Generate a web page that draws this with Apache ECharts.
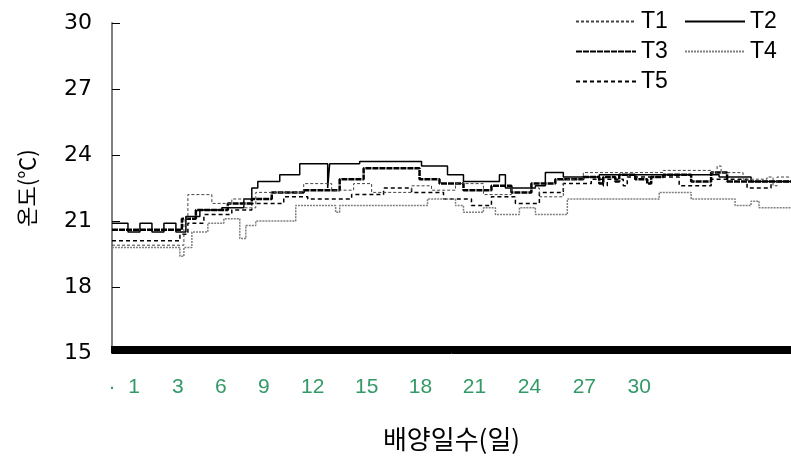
<!DOCTYPE html>
<html>
<head>
<meta charset="utf-8">
<script src="https://cdn.jsdelivr.net/npm/echarts@6/dist/echarts.min.js"></script>
<style>html,body{margin:0;padding:0;background:#fff}#c{width:791px;height:457px}</style>
</head>
<body>
<div id="c"></div>
<script>
// x = measurement index along the culture period, y = temperature (°C)
const xLabelPos  = [0, 11, 33, 54.5, 76, 100.5, 127.5, 154.5, 181.5, 209, 236.5, 264];
const xLabelText = ['·', '1', '3', '6', '9', '12', '15', '18', '21', '24', '27', '30'];
const yTicks = [15, 18, 21, 24, 27, 30];
const seriesNames = ['T1', 'T2', 'T3', 'T4', 'T5'];

const T1 = [[0,19.9],[36,21.1],[38,22.2],[50,21.8],[60,22.0],[66,21.6],[72,22.3],[96,22.7],[110,22.4],[121,22.7],[130,22.3],[150,22.6],[160,22.4],[172,22.7],[186,22.2],[200,22.5],[214,22.1],[226,22.9],[236,23.2],[276,23.3],[300,23.2],[303,23.5],[305,23.2],[316,22.9],[328,23.0],[331,22.6],[333,23.0],[340,23.0]];
const T2 = [[0,20.9],[8,20.5],[14,20.9],[20,20.5],[26,20.9],[32,20.5],[37,21.2],[44,21.5],[55,21.6],[66,22.0],[70,22.5],[73,22.8],[84,23.1],[94,23.6],[108,22.5],[109,23.6],[124,23.7],[155,23.5],[168,23.1],[176,22.8],[194,23.1],[197,22.5],[212,22.6],[217,23.2],[226,23.0],[244,23.1],[304,23.0],[320,22.8],[340,22.8]];
const T3 = [[0,20.6],[35,21.1],[42,21.5],[58,21.8],[70,22.0],[80,22.3],[96,22.4],[114,22.9],[126,23.4],[154,22.9],[164,22.7],[176,22.4],[190,22.6],[200,22.3],[210,22.7],[222,22.9],[236,23.0],[244,22.7],[246,23.0],[252,22.8],[254,23.1],[262,22.9],[268,22.7],[270,23.0],[276,23.1],[290,22.8],[300,23.2],[308,22.8],[340,22.8]];
const T4 = [[0,19.8],[34,19.4],[36,19.8],[40,20.5],[48,20.9],[56,21.1],[64,20.2],[67,20.8],[72,21.0],[92,21.7],[112,21.4],[114,21.7],[158,22.0],[172,21.7],[176,21.4],[186,21.6],[192,21.3],[204,21.6],[212,21.3],[228,22.0],[274,22.3],[290,22.0],[312,21.7],[320,21.9],[324,21.6],[340,21.6]];
const T5 = [[0,20.1],[34,20.4],[38,20.9],[46,21.3],[60,21.5],[70,21.8],[86,22.1],[98,22.0],[120,22.2],[136,22.5],[150,22.3],[166,22.0],[180,21.7],[190,22.1],[202,21.8],[214,22.3],[226,22.7],[240,22.9],[246,22.6],[248,22.9],[256,22.6],[258,23.0],[264,23.0],[284,22.6],[300,22.9],[318,22.5],[330,22.8],[340,22.8]];

const seriesData = [T1, T2, T3, T4, T5];
const lineStyles = [
  {color:'#444', width:1, type:[3,2]},
  {color:'#000', width:1.5, type:'solid'},
  {color:'#000', width:2.5, type:[6,1]},
  {color:'#808080', width:1.5, type:[2,1]},
  {color:'#000', width:1.5, type:[4,3]}
];

const tickVals = [];
for (let i = 0; i <= 340; i++) tickVals.push(i);

const chart = echarts.init(document.getElementById('c'), null, {renderer:'canvas'});
chart.setOption({
  animation: false,
  backgroundColor: '#fff',
  grid: {left:112, right:0, top:23, bottom:104, containLabel:false, outerBoundsMode:'none'},
  legend: {
    left: 575, top: 10, width: 215, padding: 0,
    itemWidth: 60, itemHeight: 14, itemGap: 7,
    itemStyle: {opacity: 0},
    textStyle: {fontFamily:'Liberation Sans', fontSize:23, color:'#000', width:36, lineHeight:23},
    data: seriesNames
  },
  xAxis: {
    type: 'value', min: 0, max: 340,
    name: '배양일수(일)', nameLocation: 'middle', nameGap: 73,
    nameTextStyle: {fontFamily:'Noto Sans CJK KR', fontSize:26, color:'#000'},
    axisLine: {show:true, lineStyle:{color:'#000', width:1}},
    axisTick: {show:true, inside:true, length:7, customValues: tickVals, lineStyle:{color:'#000', width:2}},
    axisLabel: {
      customValues: xLabelPos, margin: 24,
      fontFamily:'Liberation Sans', fontSize:21,
      formatter: function(v){ const i = xLabelPos.indexOf(v); return i >= 0 ? xLabelText[i] : ''; },
      color: function(v){ return v === 0 ? '#000' : '#339966'; }
    },
    splitLine: {show:false}
  },
  yAxis: {
    type: 'value', min: 15, max: 30, interval: 3,
    name: '온도(℃)', nameLocation: 'middle', nameGap: 74,
    nameTextStyle: {fontFamily:'Noto Sans CJK KR', fontSize:22, color:'#000'},
    axisLine: {show:true, lineStyle:{color:'#808080', width:2}},
    axisTick: {show:true, inside:true, length:8, lineStyle:{color:'#000', width:1}},
    axisLabel: {fontFamily:'DejaVu Sans', fontSize:22, color:'#000', margin:20, padding:[5,0,0,0],
      formatter: function(v){ return yTicks.indexOf(v) >= 0 ? String(v) : ''; }},
    splitLine: {show:false}
  },
  series: seriesNames.map(function(n, k){
    return {
      name: n, type: 'line', step: 'end', symbol: 'none', showSymbol: false,
      data: seriesData[k], lineStyle: lineStyles[k], itemStyle: {color: lineStyles[k].color},
      z: 10 - k
    };
  })
});
</script>
</body>
</html>
